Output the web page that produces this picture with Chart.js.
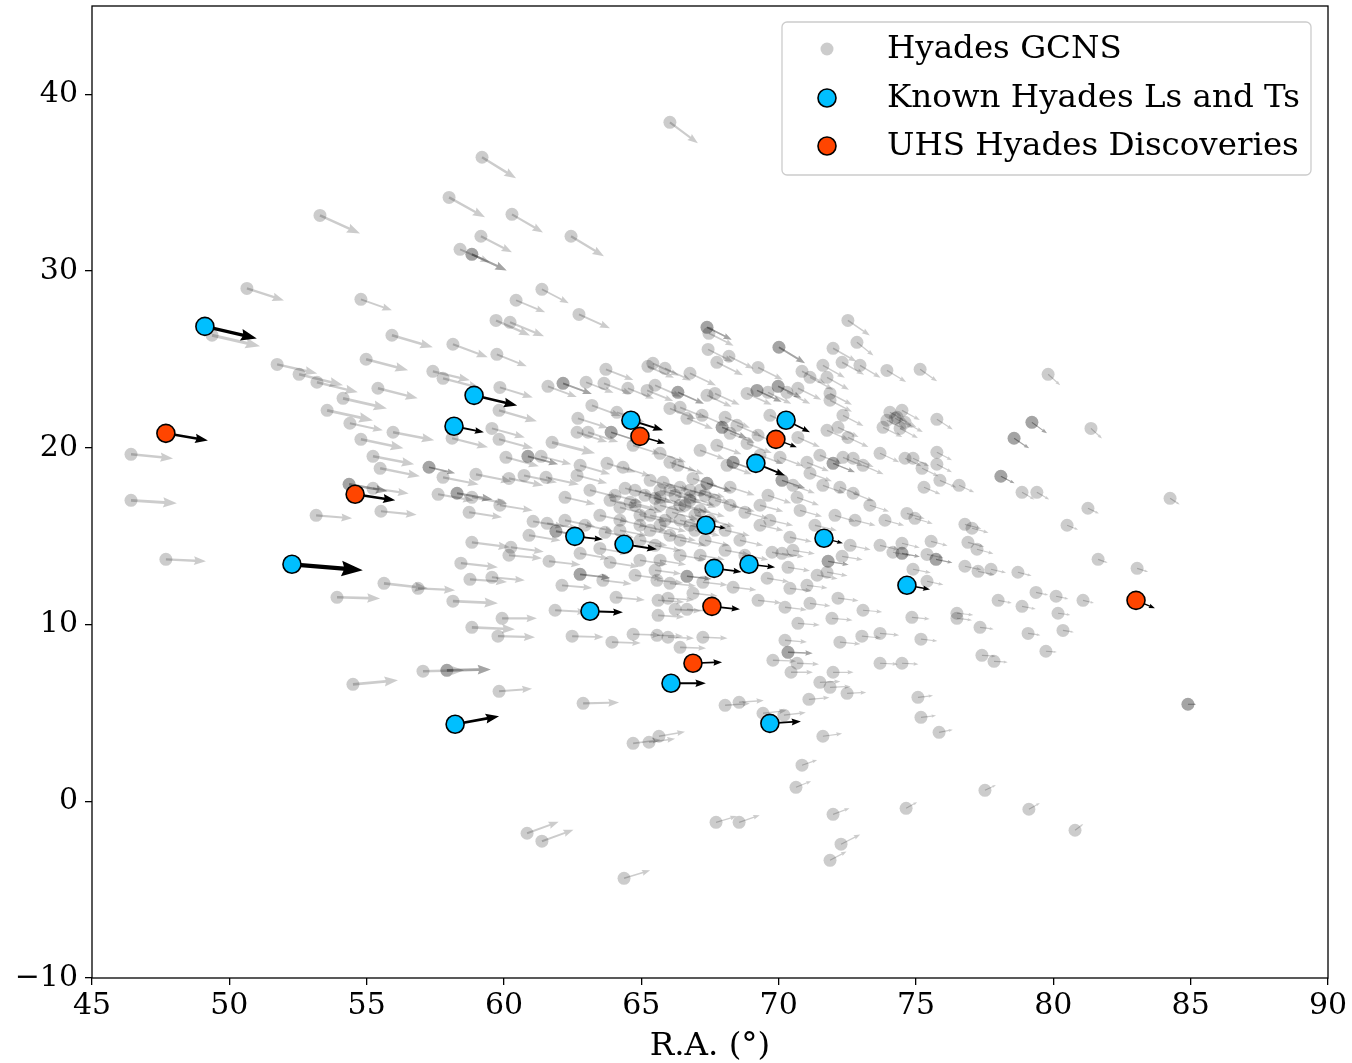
<!DOCTYPE html>
<html>
<head>
<meta charset="utf-8">
<script src="https://cdn.jsdelivr.net/npm/chart.js@4.4.0/dist/chart.umd.min.js"></script>
<style>
html,body{margin:0;padding:0;background:#fff}
#wrap{width:1352px;height:1063px}
</style>
</head>
<body>
<div id="wrap"><canvas id="c" width="1352" height="1063"></canvas></div>
<script>
// each star: [R.A., Dec, arrow dR.A., arrow dDec] in degrees
const gcnsNorth = [
  [66.04,38.42,1.02,-1.19],[59.20,36.44,1.24,-1.19],[58.00,34.17,1.31,-1.13],[53.30,33.15,1.46,-1.02],
  [60.29,33.21,1.13,-1.02],[62.44,31.97,1.20,-1.13],[59.16,31.97,1.13,-0.91],[58.40,31.23,1.09,-0.74],
  [58.83,30.95,1.27,-0.91],[58.83,30.95,1.27,-0.91],[50.64,29.02,1.35,-0.68],[61.38,28.97,0.98,-0.79],
  [60.44,28.35,1.06,-0.68],[54.79,28.40,1.13,-0.62],[62.73,27.55,1.13,-0.79],[59.71,27.21,1.24,-0.85],
  [60.22,27.10,1.24,-0.79],[67.39,26.82,0.90,-0.70],[67.39,26.82,0.90,-0.70],[67.46,26.48,0.90,-0.70],
  [72.52,27.21,0.80,-0.85]
];
const gcnsWest = [
  [49.37,26.37,1.75,-0.62],[55.92,26.37,1.49,-0.68],[51.74,24.72,1.46,-0.51],[52.54,24.16,1.60,-0.62],
  [53.19,23.71,1.49,-0.57],[54.98,25.01,1.53,-0.62],[55.41,23.37,1.45,-0.57],[54.14,22.80,1.60,-0.57],
  [53.56,22.12,1.67,-0.57],[54.39,21.39,1.20,-0.40],[55.96,20.88,1.50,-0.45],[54.79,20.48,1.55,-0.50],
  [55.23,19.52,1.50,-0.45],[55.49,18.84,1.45,-0.45],[46.42,19.63,1.53,-0.23],[46.42,17.03,1.67,-0.17],
  [54.36,17.94,1.40,-0.40],[54.36,17.94,1.40,-0.40],[55.23,17.71,1.30,-0.30],[53.16,16.18,1.31,-0.17],
  [55.52,16.41,1.30,-0.20],[47.69,13.69,1.46,-0.11],[55.63,12.33,1.60,-0.28],[53.92,11.54,1.57,-0.06],
  [54.50,6.62,1.64,0.23]
];
const gcnsMid = [
  [58.14,25.86,1.27,-0.74],[59.74,25.29,1.09,-0.68],[57.41,24.33,1.35,-0.51],[57.78,23.93,1.35,-0.55],
  [59.85,23.42,1.20,-0.57],[59.82,22.12,1.38,-0.62],[59.56,21.10,1.20,-0.51],[59.82,20.48,1.24,-0.51],
  [58.11,20.54,1.31,-0.51],[61.75,20.31,1.57,-0.62],[60.07,19.46,1.20,-0.50],[60.87,19.52,1.10,-0.45],
  [60.87,19.52,1.10,-0.45],[61.35,19.52,1.10,-0.45],[57.27,18.90,0.95,-0.34],[57.27,18.90,0.95,-0.34],
  [57.78,18.33,1.30,-0.40],[58.98,18.50,1.30,-0.40],[60.18,18.27,1.25,-0.40],[60.73,18.44,1.20,-0.40],
  [61.53,18.33,1.20,-0.40],[62.77,19.01,1.10,-0.50],[62.66,18.44,1.10,-0.45],[57.60,17.37,1.30,-0.35],
  [58.29,17.43,1.30,-0.35],[58.29,17.43,1.30,-0.35],[58.83,17.20,1.30,-0.35],[61.60,23.48,1.05,-0.60],
  [62.15,23.65,1.05,-0.60],[62.15,23.65,1.05,-0.60],[62.99,23.71,1.00,-0.60],[63.64,23.65,1.00,-0.60],
  [63.71,24.44,1.00,-0.60],[64.51,23.37,0.95,-0.60],[63.20,22.40,1.05,-0.60],[62.69,21.67,1.10,-0.55],
  [62.66,20.88,1.10,-0.55],[63.06,20.88,1.10,-0.55],[63.90,20.88,1.00,-0.50],[63.90,20.88,1.00,-0.50],
  [64.11,22.01,1.00,-0.55],[65.24,24.61,0.95,-0.65],[65.21,23.25,0.95,-0.60],[63.75,19.12,1.05,-0.50],
  [64.33,18.90,1.00,-0.50],[64.70,20.14,1.00,-0.50],[64.77,17.60,1.00,-0.45],
  [58.73,16.35,1.20,-0.28],[59.85,16.75,1.20,-0.30],[61.06,15.84,1.15,-0.30],[61.57,15.73,1.15,-0.30],
  [61.89,15.28,1.10,-0.30],[61.89,15.28,1.10,-0.30],[60.91,15.05,1.15,-0.30],[58.83,14.65,1.38,-0.28],
  [60.25,14.37,1.20,-0.25],[60.18,13.92,1.20,-0.17],[61.64,13.58,1.15,-0.20],[58.43,13.47,1.35,-0.23],
  [58.76,12.56,1.35,-0.15],[59.56,12.67,1.20,-0.17],[62.77,12.84,1.10,-0.20],[62.77,12.84,1.10,-0.20],
  [63.60,12.50,1.05,-0.20],[62.11,12.22,1.10,-0.15],[56.87,12.05,1.35,-0.11],[64.08,11.54,1.05,-0.15],
  [58.14,11.32,1.64,-0.11],[61.86,10.81,1.15,-0.10],[59.93,10.35,1.27,0.00],[58.83,9.84,1.57,-0.11],
  [59.78,9.34,1.35,-0.06],[62.48,9.34,1.15,-0.05],[63.93,9.00,1.05,-0.05],[64.70,9.45,1.00,-0.05],
  [57.92,7.41,1.60,0.05],[57.92,7.41,1.60,0.05],[57.05,7.36,1.50,0.05],[59.82,6.22,1.20,0.15],
  [62.88,5.54,1.31,0.05],[64.70,3.28,1.00,0.20],[65.28,3.34,0.95,0.20],[65.64,3.68,0.95,0.25],
  [60.84,-1.81,1.15,0.65],[61.38,-2.26,1.15,0.65],[64.37,-4.36,0.95,0.45]
];
const gcnsCore = [
  [67.43,25.57,0.90,-0.70],[68.19,25.18,0.90,-0.70],[67.75,24.84,0.95,-0.74],[70.01,25.69,0.95,-0.90],
  [70.01,25.69,0.95,-0.90],[71.98,25.63,0.85,-0.75],[72.85,25.97,0.60,-0.75],[72.31,24.84,0.80,-0.70],
  [71.61,24.67,0.80,-0.70],[72.96,24.67,0.75,-0.70],[73.94,24.38,0.70,-0.65],[69.25,24.55,0.90,-0.70],
  [70.85,24.33,0.85,-0.70],[71.14,23.99,0.85,-0.70],[71.76,23.99,0.80,-0.70],[66.77,24.22,0.95,-0.70],
  [65.86,24.50,0.95,-0.70],[65.42,24.78,0.95,-0.70],[65.50,23.54,0.95,-0.65],[66.33,23.14,0.95,-0.65],
  [66.33,23.14,0.95,-0.65],[67.39,22.97,0.90,-0.65],[67.68,23.08,0.90,-0.65],[68.85,23.08,0.90,-0.65],
  [69.21,23.25,0.90,-0.65],[69.21,23.25,0.90,-0.65],[69.61,23.14,0.85,-0.65],[69.98,23.48,0.85,-0.65],
  [69.98,23.48,0.85,-0.65],[70.30,23.14,0.85,-0.65],[70.70,23.37,0.85,-0.65],[71.87,23.08,0.80,-0.65],
  [71.87,22.69,0.80,-0.65],[72.34,21.84,0.75,-0.60],[66.04,22.23,0.95,-0.60],[66.41,22.29,0.95,-0.60],
  [66.66,21.67,0.95,-0.60],[67.21,21.84,0.90,-0.60],[68.05,21.73,0.90,-0.60],[67.94,21.16,0.90,-0.60],
  [67.94,21.16,0.90,-0.60],[68.23,20.82,0.90,-0.55],[68.48,21.27,0.90,-0.60],[68.85,20.25,0.90,-0.55],
  [69.25,20.71,0.85,-0.55],[69.68,21.84,0.85,-0.60],[70.70,20.59,0.80,-0.55],[71.76,20.99,0.80,-0.55],
  [72.16,21.16,0.75,-0.55],[72.52,20.59,0.75,-0.55],[73.94,21.56,0.70,-0.55],[74.31,21.73,0.70,-0.55],
  [73.80,21.16,0.70,-0.55],[73.69,19.69,0.70,-0.50],[67.14,19.86,0.90,-0.50],[67.75,20.14,0.90,-0.50],
  [68.34,19.18,0.90,-0.50],[68.34,19.18,0.90,-0.50],[68.12,19.01,0.90,-0.50],[69.32,19.58,0.85,-0.50],
  [70.05,19.46,0.85,-0.50],[71.03,19.18,0.80,-0.50],[71.50,19.58,0.80,-0.50],[71.98,19.12,0.80,-0.50],
  [71.98,19.12,0.80,-0.50],[72.34,19.46,0.75,-0.50],[72.71,19.41,0.75,-0.50],[73.07,19.01,0.75,-0.50],
  [71.14,18.56,0.80,-0.45],[70.12,18.16,0.85,-0.45],[70.12,18.16,0.85,-0.45],[70.52,17.88,0.80,-0.45],
  [71.61,17.88,0.80,-0.45],[72.23,17.77,0.75,-0.45],[72.71,17.43,0.75,-0.45],[70.67,17.20,0.80,-0.45],
  [69.61,17.31,0.85,-0.45],[68.23,17.77,0.90,-0.45],[67.39,17.99,0.90,-0.45],[67.39,17.99,0.90,-0.45],
  [66.88,18.27,0.90,-0.45],[66.33,19.01,0.95,-0.50],[66.04,19.18,0.95,-0.50],[65.68,19.69,0.95,-0.50],
  [65.79,18.05,0.95,-0.45],[66.41,17.77,0.95,-0.45],[65.68,17.20,0.95,-0.45],[66.77,17.20,0.90,-0.45],
  [62.22,17.20,1.10,-0.40],[63.13,17.60,1.05,-0.40],[63.86,17.03,1.05,-0.40],[64.41,17.71,1.00,-0.40],
  [65.13,17.31,1.00,-0.40],[65.68,16.75,0.95,-0.40],[66.12,16.35,0.95,-0.40],[66.59,16.75,0.95,-0.40],
  [67.14,16.46,0.90,-0.35],[67.68,17.03,0.90,-0.40],[68.23,16.75,0.90,-0.35],[68.77,16.35,0.85,-0.35],
  [69.32,16.75,0.85,-0.35],[65.32,16.18,1.00,-0.35],[64.95,15.62,1.00,-0.35],[64.22,15.90,1.00,-0.35],
  [63.49,16.18,1.05,-0.35],[62.95,15.62,1.05,-0.35],[62.22,15.90,1.10,-0.35],[64.95,14.77,1.00,-0.30],
  [65.50,14.48,0.95,-0.30],[66.04,15.05,0.95,-0.30],[66.77,15.62,0.95,-0.35],[67.32,14.77,0.90,-0.30],
  [68.05,15.33,0.90,-0.30],[68.59,14.77,0.85,-0.30],[69.32,15.62,0.85,-0.30],[69.68,15.90,0.85,-0.30],
  [63.49,14.31,1.05,-0.30],[62.77,14.03,1.05,-0.30],[64.95,13.64,1.00,-0.25],[65.68,13.64,0.95,-0.25],
  [66.41,13.92,0.95,-0.25],[67.14,13.92,0.90,-0.25],[68.05,14.20,0.90,-0.25],[68.77,13.92,0.85,-0.25],
  [63.86,13.52,1.05,-0.25],[64.77,12.79,1.00,-0.20],[65.50,13.07,0.95,-0.20],
  [65.68,17.60,0.95,-0.40],[66.23,17.31,0.95,-0.40],[66.77,17.60,0.95,-0.40],[65.32,18.16,0.95,-0.45],
  [67.14,17.60,0.90,-0.40],[65.86,15.90,0.95,-0.35],[66.41,15.90,0.95,-0.35],[66.95,15.33,0.90,-0.30],
  [67.50,15.90,0.90,-0.35],[64.22,16.63,1.00,-0.40],[63.68,15.22,1.05,-0.30],[64.59,16.92,1.00,-0.40],
  [65.32,15.33,1.00,-0.30],[66.41,16.75,0.95,-0.40],[66.95,16.18,0.90,-0.35],
  [64.04,17.31,1.00,-0.40],[64.77,16.75,1.00,-0.40],[65.50,17.14,0.95,-0.40],[66.04,17.60,0.95,-0.40],
  [66.77,17.03,0.95,-0.40],[67.32,17.31,0.90,-0.40],[64.95,16.18,1.00,-0.35],[65.68,15.62,0.95,-0.35],
  [64.22,15.33,1.00,-0.30],[66.41,14.77,0.95,-0.30],
  [70.78,16.46,0.80,-0.35],[72.05,16.18,0.75,-0.35],[72.78,15.90,0.75,-0.30],[73.32,16.75,0.70,-0.35],
  [71.32,15.62,0.80,-0.30],[72.60,14.48,0.75,-0.25],[73.69,14.48,0.70,-0.25],[73.87,15.90,0.70,-0.30],
  [70.41,14.94,0.80,-0.25],[69.76,14.09,0.80,-0.25],[70.12,14.03,0.80,-0.20],[70.52,14.20,0.80,-0.20],
  [71.80,13.58,0.75,-0.20],[71.80,13.58,0.75,-0.20],[72.31,13.86,0.75,-0.20],[70.34,13.24,0.80,-0.20],
  [71.40,12.79,0.75,-0.20],[71.76,12.96,0.75,-0.20],[74.16,14.09,0.65,-0.20],[69.58,12.62,0.80,-0.20],
  [70.41,12.05,0.80,-0.15],[71.03,12.22,0.75,-0.15],[69.25,11.37,0.85,-0.15],[70.23,10.98,0.80,-0.15],
  [71.14,11.20,0.75,-0.15],[72.16,11.49,0.75,-0.15],[73.07,10.81,0.70,-0.10],[71.94,10.35,0.75,-0.10],
  [70.70,10.07,0.80,-0.10],[70.23,9.11,0.80,-0.10],[70.34,8.43,0.90,-0.05],[70.34,8.43,0.90,-0.05],
  [72.23,9.00,0.75,-0.10],[73.03,9.34,0.70,-0.10],[73.69,9.50,0.70,-0.10],[69.79,7.98,0.85,-0.05],
  [70.67,7.81,0.80,-0.05],[73.69,7.81,0.65,-0.05],[65.57,12.50,0.95,-0.15],[66.04,12.33,0.95,-0.15],
  [65.61,11.37,0.95,-0.10],[65.97,11.49,0.95,-0.10],[66.23,10.86,0.95,-0.10],[65.61,10.52,0.95,-0.10],
  [66.66,10.86,0.90,-0.10],[66.88,11.77,0.90,-0.15],[67.24,12.39,0.90,-0.15],[66.66,12.73,0.90,-0.15],
  [66.66,12.73,0.90,-0.15],[65.57,9.39,0.95,-0.05],[65.97,9.28,0.95,-0.05],[66.41,8.71,0.95,-0.05],
  [67.24,9.28,0.90,-0.05],[68.34,12.11,0.85,-0.15],
  [68.05,5.43,0.90,0.10],[68.56,5.60,0.90,0.10],[69.43,4.98,0.85,0.15],[70.19,4.87,0.80,0.15],
  [70.45,7.30,0.80,0.00],[71.98,7.30,0.75,0.00],[71.50,6.73,0.75,0.05],[71.87,6.45,0.75,0.05],
  [72.49,6.11,0.70,0.05],[71.10,5.77,0.75,0.10],[71.61,3.68,0.70,0.15],[70.85,2.04,0.55,0.30],
  [70.63,0.79,0.55,0.35],[71.98,-0.74,0.60,0.35],[67.72,-1.19,0.75,0.35],[68.56,-1.19,0.75,0.40],
  [72.27,-2.43,0.70,0.55],[71.87,-3.34,0.60,0.50]
];
const gcnsEast = [
  [75.15,24.44,0.62,-0.68],[79.81,24.16,0.44,-0.62],[74.49,22.12,0.65,-0.55],[74.05,22.01,0.65,-0.55],
  [74.24,21.67,0.65,-0.55],[74.60,21.44,0.65,-0.55],[74.42,21.10,0.65,-0.55],[75.76,21.61,0.58,-0.57],
  [79.22,21.44,0.55,-0.62],[79.22,21.44,0.55,-0.62],[78.57,20.54,0.55,-0.57],[78.57,20.54,0.55,-0.57],
  [81.37,21.10,0.40,-0.57],[75.76,19.75,0.55,-0.45],[75.76,19.07,0.55,-0.45],[74.60,19.41,0.60,-0.45],
  [74.89,19.41,0.60,-0.45],[75.22,18.84,0.60,-0.45],[75.87,18.16,0.60,-0.40],[76.57,17.88,0.55,-0.40],
  [75.29,17.77,0.60,-0.40],[78.09,18.39,0.50,-0.40],[78.09,18.39,0.50,-0.40],[78.86,17.48,0.45,-0.40],
  [79.40,17.48,0.45,-0.40],[84.25,17.14,0.35,-0.35],
  [74.67,16.29,0.65,-0.30],[74.96,16.01,0.65,-0.30],[76.78,15.67,0.60,-0.25],[77.04,15.45,0.60,-0.25],
  [81.26,16.58,0.40,-0.30],[80.50,15.62,0.40,-0.25],[75.55,14.71,0.60,-0.25],[74.49,14.60,0.65,-0.25],
  [76.89,14.65,0.60,-0.25],[77.22,14.26,0.60,-0.25],[75.40,13.97,0.60,-0.20],[75.73,13.69,0.60,-0.20],
  [75.73,13.69,0.60,-0.20],[74.49,14.03,0.65,-0.20],[74.49,14.03,0.65,-0.20],[81.63,13.69,0.35,-0.20],
  [83.05,13.18,0.40,-0.20],[74.89,13.13,0.65,-0.20],[76.78,13.30,0.60,-0.20],[77.26,13.01,0.60,-0.20],
  [77.73,13.13,0.55,-0.20],[78.71,12.96,0.50,-0.20],[75.40,12.45,0.60,-0.20],[79.37,11.82,0.45,-0.15],
  [80.10,11.60,0.45,-0.15],[81.08,11.37,0.40,-0.15],[77.99,11.37,0.50,-0.15],[78.86,11.03,0.50,-0.15],
  [80.17,10.64,0.45,-0.10],[74.85,10.41,0.65,-0.10],[76.49,10.64,0.60,-0.10],[76.49,10.35,0.55,-0.10],
  [77.33,9.84,0.50,-0.10],[80.35,9.67,0.40,-0.10],[79.08,9.50,0.45,-0.10],[75.18,9.17,0.60,-0.10],
  [79.73,8.49,0.40,-0.05],[77.40,8.26,0.50,-0.05],[77.84,7.92,0.50,-0.05],[74.49,7.81,0.60,-0.05],
  [75.07,5.88,0.55,0.10],[75.18,4.75,0.55,0.10],[75.84,3.90,0.50,0.15],[84.90,5.49,0.30,0.00],
  [84.90,5.49,0.30,0.00],[77.51,0.62,0.40,0.30],[74.64,-0.40,0.40,0.35],[79.11,-0.45,0.40,0.35],
  [80.79,-1.64,0.30,0.35]
];
const knownLT = [
  [49.11,26.87,1.89,-0.68],[58.91,22.97,1.57,-0.57],[58.18,21.22,1.09,-0.34],[64.62,21.56,1.17,-0.57],
  [70.27,21.56,0.87,-0.68],[69.17,19.12,1.06,-0.68],[52.28,13.41,2.58,-0.34],[62.58,14.99,1.02,-0.17],
  [64.37,14.54,1.20,-0.28],[67.35,15.62,0.73,-0.17],[71.65,14.88,0.69,-0.28],[67.65,13.18,1.00,-0.20],
  [68.92,13.41,0.95,-0.17],[63.13,10.75,1.20,-0.06],[74.67,12.22,0.84,-0.23],[66.08,6.68,1.27,0.00],
  [58.22,4.36,1.60,0.45],[69.68,4.41,1.13,0.11]
];
const uhsNew = [
  [47.69,20.82,1.53,-0.40],[54.58,17.37,1.46,-0.34],[64.95,20.65,0.91,-0.40],[69.90,20.48,0.76,-0.45],
  [67.57,11.03,1.02,-0.17],[66.88,7.81,1.06,0.06],[83.01,11.37,0.69,-0.45]
];
const xTicks = [45,50,55,60,65,70,75,80,85,90];
const yTicks = [-10,0,10,20,30,40];
const legendLabels = ['Hyades GCNS','Known Hyades Ls and Ts','UHS Hyades Discoveries'];

const FONT = 'DejaVu Serif';
const GREY = 'rgba(0,0,0,0.2)';
const BLUE = '#00BFFF';
const ORANGE = '#FF4500';
const gcns = [].concat(gcnsNorth, gcnsWest, gcnsMid, gcnsCore, gcnsEast);
const pts = rows => rows.map(r => ({x: r[0], y: r[1]}));
const fmt = v => v < 0 ? '\u2212' + Math.abs(v) : String(v);

function arrow(ctx, x0, y0, x1, y1){
  const dx = x1 - x0, dy = y1 - y0, L = Math.hypot(dx, dy);
  if (L < 1) return;
  const ux = dx / L, uy = dy / L, nx = -uy, ny = ux;
  const hl = 0.3 * L, hw = 0.11 * L, sw = Math.max(0.6, 0.03 * L);
  const bx = x1 - ux * hl * 0.9, by = y1 - uy * hl * 0.9;
  const hx = x1 - ux * hl, hy = y1 - uy * hl;
  ctx.beginPath();
  ctx.moveTo(x0 + nx * sw, y0 + ny * sw);
  ctx.lineTo(bx + nx * sw, by + ny * sw);
  ctx.lineTo(hx + nx * hw, hy + ny * hw);
  ctx.lineTo(x1, y1);
  ctx.lineTo(hx - nx * hw, hy - ny * hw);
  ctx.lineTo(bx - nx * sw, by - ny * sw);
  ctx.lineTo(x0 - nx * sw, y0 - ny * sw);
  ctx.closePath();
  ctx.fill();
}

const quiver = {
  id: 'quiver',
  afterDatasetDraw(chart, args){
    if (args.index !== 0) return;
    const {ctx, scales: {x, y}} = chart;
    const draw = (rows, color) => {
      ctx.fillStyle = color;
      rows.forEach(r => arrow(ctx, x.getPixelForValue(r[0]), y.getPixelForValue(r[1]),
        x.getPixelForValue(r[0] + r[2]), y.getPixelForValue(r[1] + r[3])));
    };
    ctx.save();
    draw(gcns, GREY);
    draw(knownLT, '#000');
    draw(uhsNew, '#000');
    ctx.restore();
  }
};

const frameAndLegend = {
  id: 'frameAndLegend',
  afterDraw(chart){
    const {ctx, chartArea: a} = chart;
    ctx.save();
    ctx.strokeStyle = '#000';
    ctx.lineWidth = 1.3;
    ctx.strokeRect(a.left, a.top, a.right - a.left, a.bottom - a.top);
    // legend box, upper right
    const bx = a.right - 546, by = a.top + 16, bw = 529, bh = 153;
    ctx.beginPath();
    ctx.roundRect(bx, by, bw, bh, 5);
    ctx.fillStyle = 'rgba(255,255,255,0.8)';
    ctx.fill();
    ctx.strokeStyle = '#cccccc';
    ctx.lineWidth = 1.3;
    ctx.stroke();
    const mx = bx + 45, tx = bx + 105, rows = [by + 27, by + 76, by + 124];
    const marks = [[GREY, 6.5, null], [BLUE, 9, '#000'], [ORANGE, 9, '#000']];
    ctx.font = '32.5px "' + FONT + '"';
    ctx.textBaseline = 'middle';
    rows.forEach((ry, i) => {
      const [c, r, e] = marks[i];
      ctx.beginPath();
      ctx.arc(mx, ry, r, 0, Math.PI * 2);
      ctx.fillStyle = c;
      ctx.fill();
      if (e){ ctx.strokeStyle = e; ctx.lineWidth = 1.6; ctx.stroke(); }
      ctx.fillStyle = '#000';
      ctx.fillText(legendLabels[i], tx, ry + 1);
    });
    ctx.restore();
  }
};

new Chart(document.getElementById('c'), {
  type: 'scatter',
  data: {
    datasets: [
      {label: legendLabels[0], data: pts(gcns), order: 3, pointRadius: 6.5, pointBackgroundColor: GREY, pointBorderWidth: 0},
      {label: legendLabels[1], data: pts(knownLT), order: 2, pointRadius: 9, pointBackgroundColor: BLUE, pointBorderColor: '#000', pointBorderWidth: 1.6},
      {label: legendLabels[2], data: pts(uhsNew), order: 1, pointRadius: 9, pointBackgroundColor: ORANGE, pointBorderColor: '#000', pointBorderWidth: 1.6}
    ]
  },
  options: {
    responsive: false,
    animation: false,
    events: [],
    devicePixelRatio: 1,
    layout: {autoPadding: false, padding: {left: 0, right: 24, top: 6, bottom: 0}},
    plugins: {legend: {display: false}, tooltip: {enabled: false}},
    scales: {
      x: {
        type: 'linear', min: 45, max: 90,
        afterBuildTicks: s => { s.ticks = xTicks.map(v => ({value: v})); },
        afterFit: s => { s.height = 85; s.paddingLeft = 0; s.paddingRight = 0; },
        grid: {drawOnChartArea: false, drawTicks: true, tickLength: 7, color: '#000', lineWidth: 1.3},
        border: {display: false},
        ticks: {color: '#000', font: {family: FONT, size: 30}, padding: 3, maxRotation: 0, autoSkip: false, callback: fmt},
        title: {display: true, text: 'R.A. (\u00b0)', color: '#000', font: {family: FONT, size: 32.5, lineHeight: 1}, padding: {top: 0, bottom: 0}}
      },
      y: {
        type: 'linear', min: -10, max: 45,
        afterBuildTicks: s => { s.ticks = yTicks.map(v => ({value: v})); },
        afterFit: s => { s.width = 92; s.paddingTop = 0; s.paddingBottom = 0; },
        grid: {drawOnChartArea: false, drawTicks: true, tickLength: 7, color: '#000', lineWidth: 1.3},
        border: {display: false},
        ticks: {color: '#000', font: {family: FONT, size: 30}, padding: 7, autoSkip: false, callback: fmt}
      }
    }
  },
  plugins: [quiver, frameAndLegend]
});
</script>
</body>
</html>
